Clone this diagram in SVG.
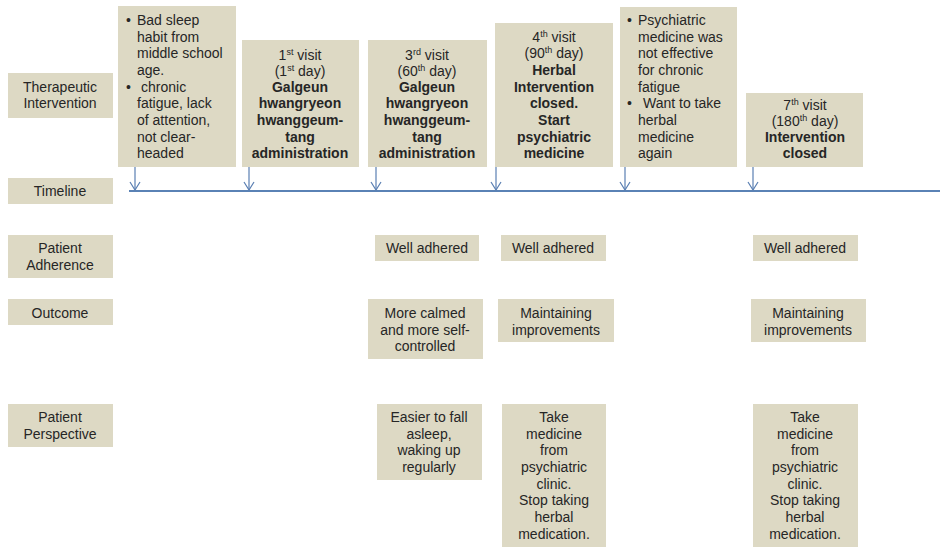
<svg xmlns="http://www.w3.org/2000/svg" width="940" height="547" viewBox="0 0 940 547">
<style>
.b{fill:#ddd9c4}
text{font-family:"Liberation Sans",Arial,sans-serif;font-size:14px;fill:#262626}
.c{text-anchor:middle}
.w{font-weight:bold}
.s{font-size:9px}
.ar{stroke:#5a7fb2;stroke-width:1.2;fill:none}
</style>
<defs>
<marker id="v" markerWidth="10" markerHeight="12" refX="9" refY="6" orient="auto" markerUnits="userSpaceOnUse" viewBox="0 0 10 12">
<path d="M1,1 L9,6 L1,11" fill="none" stroke="#5a7fb2" stroke-width="1.2"/>
</marker>
</defs>
<rect width="940" height="547" fill="#fff"/>

<g id="lbl-therapeutic"><rect class="b" x="8" y="73" width="105" height="45"/>
<text class="c" x="60" y="92">Therapeutic</text><text class="c" x="60" y="108">Intervention</text></g>
<g id="lbl-timeline"><rect class="b" x="8" y="178" width="105" height="26"/>
<text class="c" x="60" y="196">Timeline</text></g>
<g id="lbl-adherence"><rect class="b" x="8" y="235" width="105" height="43"/>
<text class="c" x="60" y="253">Patient</text><text class="c" x="60" y="270">Adherence</text></g>
<g id="lbl-outcome"><rect class="b" x="8" y="299" width="105" height="26"/>
<text class="c" x="60" y="318">Outcome</text></g>
<g id="lbl-perspective"><rect class="b" x="8" y="404" width="105" height="43"/>
<text class="c" x="60" y="422">Patient</text><text class="c" x="60" y="439">Perspective</text></g>

<g id="ev0"><rect class="b" x="118" y="6" width="118" height="161"/>
<text x="126" y="25">•</text><text x="137" y="25">Bad sleep</text>
<text x="137" y="42">habit from</text>
<text x="137" y="58">middle school</text>
<text x="137" y="75">age.</text>
<text x="126" y="92">•</text><text x="141" y="92">chronic</text>
<text x="137" y="108">fatigue, lack</text>
<text x="137" y="125">of attention,</text>
<text x="137" y="142">not clear-</text>
<text x="137" y="158">headed</text></g>

<g id="ev1"><rect class="b" x="242" y="40" width="117" height="127"/>
<text class="c" x="300" y="60">1<tspan class="s" dy="-5">st</tspan><tspan dy="5"> visit</tspan></text>
<text class="c" x="300" y="76">(1<tspan class="s" dy="-5">st</tspan><tspan dy="5"> day)</tspan></text>
<text class="c w" x="300" y="92">Galgeun</text>
<text class="c w" x="300" y="108">hwangryeon</text>
<text class="c w" x="300" y="125">hwanggeum-</text>
<text class="c w" x="300" y="142">tang</text>
<text class="c w" x="300" y="158">administration</text></g>

<g id="ev3"><rect class="b" x="368" y="40" width="119" height="127"/>
<text class="c" x="427" y="60">3<tspan class="s" dy="-5">rd</tspan><tspan dy="5"> visit</tspan></text>
<text class="c" x="427" y="76">(60<tspan class="s" dy="-5">th</tspan><tspan dy="5"> day)</tspan></text>
<text class="c w" x="427" y="92">Galgeun</text>
<text class="c w" x="427" y="108">hwangryeon</text>
<text class="c w" x="427" y="125">hwanggeum-</text>
<text class="c w" x="427" y="142">tang</text>
<text class="c w" x="427" y="158">administration</text></g>

<g id="ev4"><rect class="b" x="495" y="23" width="118" height="144"/>
<text class="c" x="554" y="42">4<tspan class="s" dy="-5">th</tspan><tspan dy="5"> visit</tspan></text>
<text class="c" x="554" y="58">(90<tspan class="s" dy="-5">th</tspan><tspan dy="5"> day)</tspan></text>
<text class="c w" x="554" y="75">Herbal</text>
<text class="c w" x="554" y="92">Intervention</text>
<text class="c w" x="554" y="108">closed.</text>
<text class="c w" x="554" y="125">Start</text>
<text class="c w" x="554" y="142">psychiatric</text>
<text class="c w" x="554" y="158">medicine</text></g>

<g id="ev5"><rect class="b" x="620" y="7" width="117" height="160"/>
<text x="627" y="25">•</text><text x="638" y="25">Psychiatric</text>
<text x="638" y="42">medicine was</text>
<text x="638" y="58">not effective</text>
<text x="638" y="75">for chronic</text>
<text x="638" y="92">fatigue</text>
<text x="627" y="108">•</text><text x="643" y="108">Want to take</text>
<text x="638" y="125">herbal</text>
<text x="638" y="142">medicine</text>
<text x="638" y="158">again</text></g>

<g id="ev7"><rect class="b" x="746" y="93" width="117" height="74"/>
<text class="c" x="805" y="110">7<tspan class="s" dy="-5">th</tspan><tspan dy="5"> visit</tspan></text>
<text class="c" x="805" y="126">(180<tspan class="s" dy="-5">th</tspan><tspan dy="5"> day)</tspan></text>
<text class="c w" x="805" y="142">Intervention</text>
<text class="c w" x="805" y="158">closed</text></g>

<g id="adh3"><rect class="b" x="375" y="235" width="104" height="26"/><text class="c" x="427" y="253">Well adhered</text></g>
<g id="adh4"><rect class="b" x="501" y="235" width="105" height="26"/><text class="c" x="553" y="253">Well adhered</text></g>
<g id="adh7"><rect class="b" x="753" y="235" width="105" height="26"/><text class="c" x="805" y="253">Well adhered</text></g>

<g id="out3"><rect class="b" x="368" y="299" width="115" height="60"/>
<text class="c" x="425" y="318">More calmed</text><text class="c" x="425" y="335">and more self-</text><text class="c" x="425" y="351">controlled</text></g>
<g id="out4"><rect class="b" x="498" y="299" width="116" height="43"/>
<text class="c" x="556" y="318">Maintaining</text><text class="c" x="556" y="335">improvements</text></g>
<g id="out7"><rect class="b" x="751" y="299" width="115" height="43"/>
<text class="c" x="808" y="318">Maintaining</text><text class="c" x="808" y="335">improvements</text></g>

<g id="per3"><rect class="b" x="377" y="404" width="105" height="76"/>
<text class="c" x="429" y="422">Easier to fall</text><text class="c" x="429" y="439">asleep,</text><text class="c" x="429" y="455">waking up</text><text class="c" x="429" y="472">regularly</text></g>
<g id="per4"><rect class="b" x="502" y="404" width="104" height="143"/>
<text class="c" x="554" y="422">Take</text><text class="c" x="554" y="439">medicine</text><text class="c" x="554" y="455">from</text><text class="c" x="554" y="472">psychiatric</text><text class="c" x="554" y="489">clinic.</text><text class="c" x="554" y="505">Stop taking</text><text class="c" x="554" y="522">herbal</text><text class="c" x="554" y="539">medication.</text></g>
<g id="per7"><rect class="b" x="753" y="404" width="105" height="143"/>
<text class="c" x="805" y="422">Take</text><text class="c" x="805" y="439">medicine</text><text class="c" x="805" y="455">from</text><text class="c" x="805" y="472">psychiatric</text><text class="c" x="805" y="489">clinic.</text><text class="c" x="805" y="505">Stop taking</text><text class="c" x="805" y="522">herbal</text><text class="c" x="805" y="539">medication.</text></g>

<g id="connectors">
<line x1="129" y1="191" x2="940" y2="191" stroke="#5a82b5" stroke-width="2"/>
<line class="ar" x1="135" y1="167" x2="135" y2="190" marker-end="url(#v)"/>
<line class="ar" x1="249" y1="167" x2="249" y2="190" marker-end="url(#v)"/>
<line class="ar" x1="376" y1="167" x2="376" y2="190" marker-end="url(#v)"/>
<line class="ar" x1="496" y1="167" x2="496" y2="190" marker-end="url(#v)"/>
<line class="ar" x1="625" y1="167" x2="625" y2="190" marker-end="url(#v)"/>
<line class="ar" x1="753" y1="167" x2="753" y2="190" marker-end="url(#v)"/>
</g>
</svg>
